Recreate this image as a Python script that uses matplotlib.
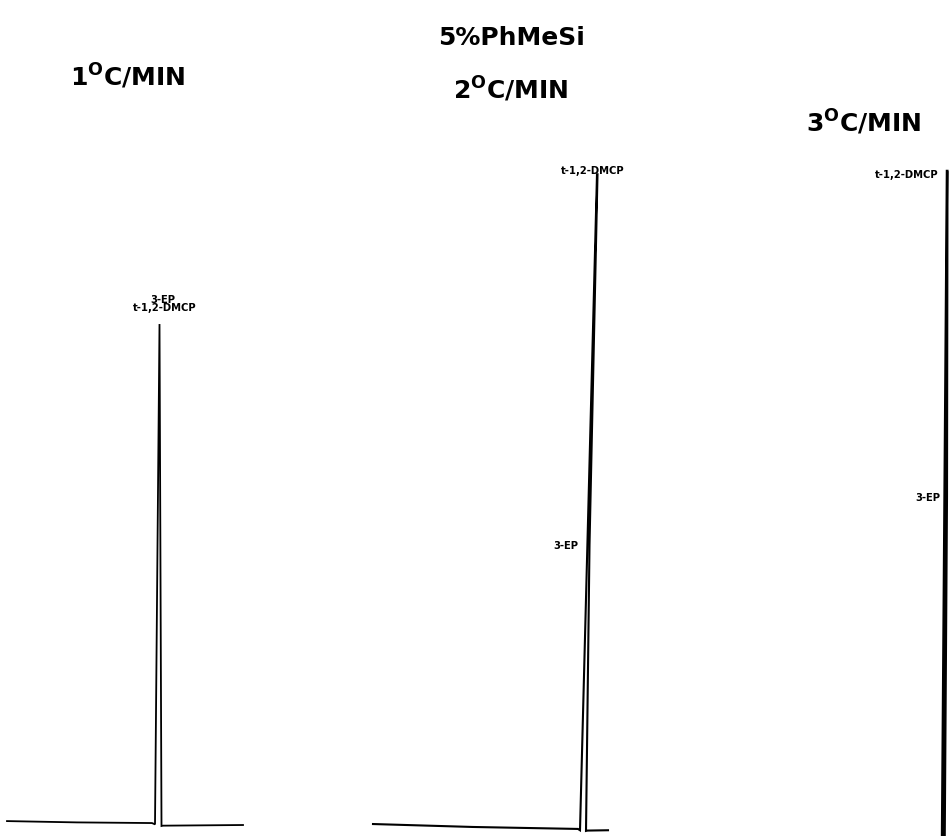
import numpy as np
import matplotlib.pyplot as plt

plt.rcParams['font.family'] = ['DejaVu Sans']
plt.rcParams['mathtext.fontset'] = 'dejavusans'

# chart position (1 unit = 1 mm of chart paper), detector response (% of full scale)
x_1c = [0.0, 7.0, 14.5, 14.8, 15.25, 15.45, 15.6, 23.6]
y_1c = [0.6, 0.4, 0.3, 0.1, 76.6, -0.15, -0.1, 0.0]

x_2c = [0.0, 10.0, 20.5, 20.7, 22.4, 22.45, 21.65, 21.3, 21.45, 23.5]
y_2c = [0.15, -0.3, -0.6, -0.8, 99.5, 99.5, 42.8, -0.9, -0.85, -0.8]

x_3c = [18.2, 18.7, 18.73, 18.68, 18.45]
y_3c = [-3.0, 100.0, 100.0, 50.2, -3.0]

# peak labels: (x, y, text)
labels_1c = [(15.6, 80.5, '3-EP'), (15.8, 79.2, 't-1,2-DMCP')]
labels_2c = [(22.0, 100.1, 't-1,2-DMCP'), (19.3, 42.8, '3-EP')]
labels_3c = [(14.7, 99.5, 't-1,2-DMCP'), (16.8, 50.2, '3-EP')]

rates = ['1$^{\\mathbf{O}}$C/MIN', '2$^{\\mathbf{O}}$C/MIN', '3$^{\\mathbf{O}}$C/MIN']
column = '5%PhMeSi'

W, H = 952, 837
fig = plt.figure(figsize=(W / 100, H / 100), dpi=100)

# panel extents in pixels (left, right) and x limits
panels = [
    ((0, 250), (-0.7, 24.3), x_1c, y_1c, labels_1c, 1.3),
    ((360, 620), (-1.3, 24.7), x_2c, y_2c, labels_2c, 1.5),
    ((760, 952), (0.0, 19.2), x_3c, y_3c, labels_3c, 1.8),
]
ylim = (-1.68, 126.3)

for (l, r), xl, xs, ys, labs, lw in panels:
    ax = fig.add_axes([l / W, 0, (r - l) / W, 1])
    ax.plot(xs, ys, color='black', lw=lw, solid_joinstyle='miter')
    for lx, ly, txt in labs:
        ax.text(lx, ly, txt, ha='center', va='center', fontsize=7.2,
                fontweight='heavy', color='black')
    ax.set_xlim(xl)
    ax.set_ylim(ylim)
    ax.axis('off')

title_kw = dict(ha='center', va='center', fontsize=18, fontweight='heavy')
fig.text(512 / W, 1 - 38 / H, column, **title_kw)
fig.text(128 / W, 1 - 76 / H, rates[0], **title_kw)
fig.text(511 / W, 1 - 89 / H, rates[1], **title_kw)
fig.text(864 / W, 1 - 122 / H, rates[2], **title_kw)

fig.savefig('out.png', dpi=100, facecolor='white')
